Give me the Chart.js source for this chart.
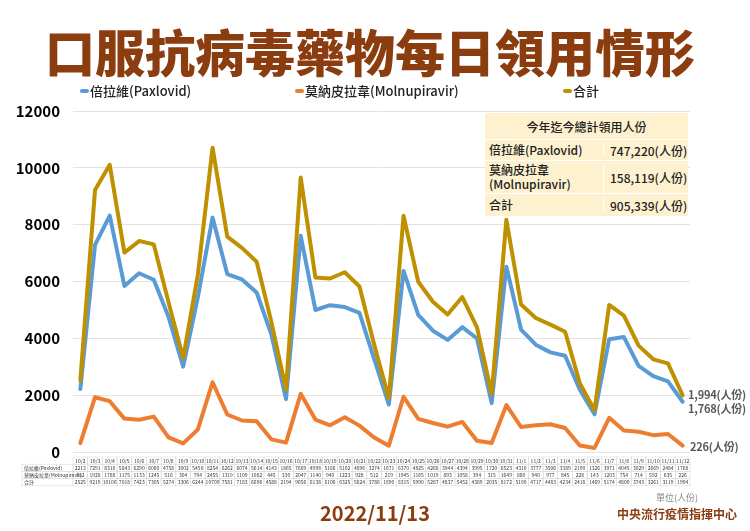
<!DOCTYPE html>
<html>
<head>
<meta charset="utf-8">
<script src="https://cdn.jsdelivr.net/npm/chart.js@4"></script>
<style>
  body { margin: 0; background: #fff; font-family: "Noto Sans CJK TC", "Noto Sans", sans-serif; }
  #wrap { position: relative; width: 750px; height: 531px; overflow: hidden; }
  #chart { position: absolute; left: 0; top: 0; }
  .title { position: absolute; left: 0; width: 740px; top: 20px; text-align: center;
    font-size: 50px; font-weight: 900; color: #8b3d10; line-height: 60px; white-space: nowrap; }
  .legend { position: absolute; top: 81px; font-size: 13px; font-weight: 500; color: #222; display: flex; align-items: center; white-space: nowrap; }
  .legend i { display: inline-block; width: 9px; height: 4px; border-radius: 2px; margin-right: 1px; }
  .info { position: absolute; left: 485px; top: 113px; width: 203px; background: #fdf1cf;
    font-size: 12px; font-weight: 500; color: #222; }
  .info .row { display: flex; border-top: 1.5px solid #fff; align-items: center; }
  .info .head { text-align: center; padding: 5px 0 4px; }
  .info .c1 { width: 114px; padding-left: 4px; border-right: 1.5px solid #fff; line-height: 14px; }
  .info .c2 { padding-left: 6px; }
  .note { position: absolute; color: #888; font-size: 9px; white-space: nowrap; }
  .org { position: absolute; color: #8b3d10; font-size: 12px; font-weight: 700; white-space: nowrap; }
  .date { position: absolute; left: 0; width: 750px; text-align: center; top: 498px;
    color: #8b3d10; font-size: 20px; font-weight: 700; }
  .end { position: absolute; color: #595959; font-size: 11px; font-weight: 600; white-space: nowrap; letter-spacing: -0.2px; }
</style>
</head>
<body>
<div id="wrap">
  <canvas id="chart" width="750" height="531"></canvas>
  <div class="title">口服抗病毒藥物每日領用情形</div>
  <div class="legend" style="left:80px"><i style="background:#5b9bd5"></i>倍拉維(Paxlovid)</div>
  <div class="legend" style="left:295px"><i style="background:#ed7d31"></i>莫納皮拉韋(Molnupiravir)</div>
  <div class="legend" style="left:563px"><i style="background:#bf9000"></i>合計</div>
  <div class="info">
    <div class="head">今年迄今總計領用人份</div>
    <div class="row" style="height:20px"><div class="c1">倍拉維(Paxlovid)</div><div class="c2">747,220(人份)</div></div>
    <div class="row" style="height:32px"><div class="c1">莫納皮拉韋<br>(Molnupiravir)</div><div class="c2">158,119(人份)</div></div>
    <div class="row" style="height:22px"><div class="c1">合計</div><div class="c2">905,339(人份)</div></div>
  </div>
  <div class="end" style="left:688px; top:386px">1,994(人份)</div>
  <div class="end" style="left:688px; top:400px">1,768(人份)</div>
  <div class="end" style="left:690px; top:438px">226(人份)</div>
  <div class="note" style="left:656px; top:491px">單位(人份)</div>
  <div class="date">2022/11/13</div>
  <div class="org" style="left:617px; top:505px">中央流行疫情指揮中心</div>
</div>
<script>
const dates = ["10/2","10/3","10/4","10/5","10/6","10/7","10/8","10/9","10/10","10/11","10/12","10/13","10/14",
  "10/15","10/16","10/17","10/18","10/19","10/20","10/21","10/22","10/23","10/24","10/25","10/26","10/27",
  "10/28","10/29","10/30","10/31","11/1","11/2","11/3","11/4","11/5","11/6","11/7","11/8","11/9","11/10",
  "11/11","11/12"];
const paxlovid = [2213,7291,8318,5843,6290,6060,4758,3002,5450,8254,6262,6074,5614,4143,1865,7609,4998,5166,
  5102,4896,3274,1671,6370,4825,4268,3944,4394,3995,1720,6523,4310,3777,3506,3389,2190,1326,3971,4045,3029,
  2669,2484,1768];
const molnupiravir = [312,1928,1788,1175,1133,1245,516,304,794,2455,1319,1109,1082,445,330,2047,1140,940,1223,
  928,512,219,1945,1165,1019,893,1058,394,315,1649,880,940,977,845,228,143,1203,754,714,592,635,226];
const total = [2525,9219,10106,7018,7423,7305,5274,3306,6244,10709,7581,7183,6696,4588,2194,9656,6138,6106,
  6325,5824,3786,1890,8315,5990,5287,4837,5452,4389,2035,8172,5190,4717,4483,4234,2418,1469,5174,4800,3743,
  3261,3119,1994];
const rowLabels = ["倍拉維(Paxlovid)", "莫納皮拉韋(Molnupiravir)", "合計"];

// little data table under the x axis, columns follow the category scale
const dataTable = {
  id: "dataTable",
  afterDraw(chart) {
    const { ctx, scales: { x } } = chart;
    const w = x.getPixelForValue(1) - x.getPixelForValue(0);
    const top = 457, rh = 7.2;
    const rows = [dates, paxlovid, molnupiravir, total];
    ctx.save();
    ctx.strokeStyle = "#dcdcdc";
    ctx.lineWidth = 0.6;
    ctx.fillStyle = "#333";
    ctx.font = "5px 'Noto Sans CJK TC'";
    ctx.textAlign = "center";
    ctx.textBaseline = "middle";
    rows.forEach((row, r) => {
      const y = top + r * rh;
      row.forEach((v, i) => {
        const cx = x.getPixelForValue(i);
        ctx.strokeRect(cx - w / 2, y, w, rh);
        ctx.fillText(String(v), cx, y + rh / 2 + 0.3);
      });
      if (r > 0) {
        ctx.strokeRect(22, y, x.left - 22, rh);
        ctx.textAlign = "left";
        ctx.fillText(rowLabels[r - 1], 24, y + rh / 2 + 0.3);
        ctx.textAlign = "center";
      }
    });
    ctx.restore();
  },
};

const lineSet = (label, data, color) => ({
  label, data, borderColor: color, backgroundColor: color,
  borderWidth: 4, pointRadius: 0, tension: 0, borderJoinStyle: "round", borderCapStyle: "round",
});

new Chart(document.getElementById("chart"), {
  type: "line",
  data: {
    labels: dates,
    datasets: [
      lineSet("合計", total, "#bf9000"),
      lineSet("倍拉維(Paxlovid)", paxlovid, "#5b9bd5"),
      lineSet("莫納皮拉韋(Molnupiravir)", molnupiravir, "#ed7d31"),
    ],
  },
  options: {
    responsive: false,
    animation: false,
    layout: { padding: { top: 111, bottom: 79, right: 60, left: 0 } },
    plugins: { legend: { display: false }, tooltip: { enabled: false } },
    scales: {
      x: {
        offset: true,
        ticks: { display: false },
        grid: { display: false },
        border: { display: false },
        afterFit(scale) { scale.height = 0; },
      },
      y: {
        min: 0, max: 12000,
        ticks: { stepSize: 2000, padding: 13, color: "#000",
          callback: (v) => String(v),
          font: { size: 15, weight: "bold", family: "Noto Sans CJK TC" } },
        grid: { color: "#e3e3e3", drawTicks: false },
        border: { display: false },
        afterFit(scale) { scale.width = 73; },
      },
    },
  },
  plugins: [dataTable],
});
</script>
</body>
</html>
